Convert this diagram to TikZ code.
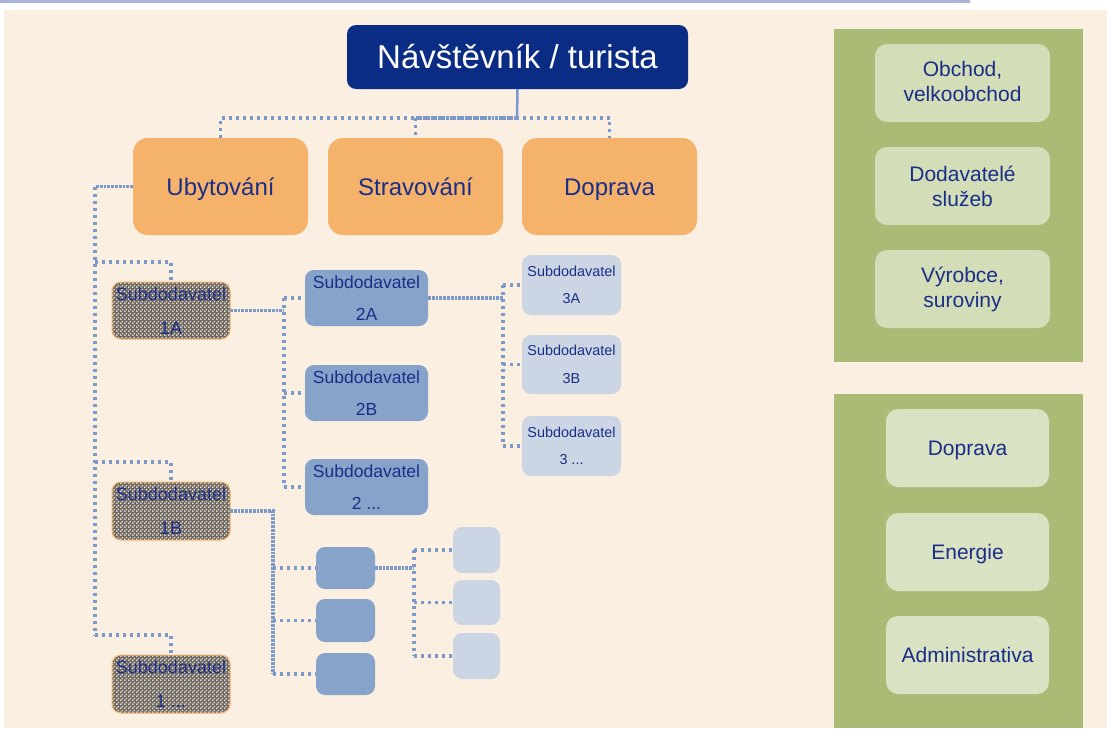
\documentclass[tikz,border=0pt]{standalone}
\usepackage{fontspec}
\setmainfont{Liberation Sans}
\usetikzlibrary{patterns}

\definecolor{pagebg}{HTML}{FBEFE2}
\definecolor{topline}{HTML}{A9B5D5}
\definecolor{navy}{HTML}{0B2C84}
\definecolor{txt}{HTML}{1B2E87}
\definecolor{orangebox}{HTML}{F4B26B}
\definecolor{midblue}{HTML}{87A3CA}
\definecolor{paleblue}{HTML}{CBD5E3}
\definecolor{hatchbase}{HTML}{6F6961}
\definecolor{hatchdot}{HTML}{F1EAE1}
\definecolor{panelgreen}{HTML}{AABB76}
\definecolor{innergreenA}{HTML}{D3DEB9}
\definecolor{innergreenB}{HTML}{D9E2C3}
\definecolor{link}{HTML}{7B9ACB}

% light diamond dots on a dark ground
\pgfdeclarepatternformonly{diadots}{\pgfqpoint{0pt}{0pt}}{\pgfqpoint{4pt}{4pt}}{\pgfqpoint{4pt}{4pt}}{%
  \pgfpathcircle{\pgfqpoint{1pt}{1pt}}{1.2pt}%
  \pgfpathcircle{\pgfqpoint{3pt}{3pt}}{0.95pt}%
  \pgfusepath{fill}}

\tikzset{
  box/.style={anchor=north west, inner sep=0pt, outer sep=0pt, align=center, text=txt},
  titlebox/.style={box, fill=navy, rounded corners=9pt, text=white,
    font=\fontsize{33}{38}\selectfont, text height=23.6pt, text depth=0pt},
  topbox/.style={box, fill=orangebox, rounded corners=15pt,
    font=\fontsize{24}{28}\selectfont, text height=17.2pt, text depth=0pt},
  hatchbox/.style={box, rounded corners=9pt, draw=orangebox, line width=1pt,
    preaction={fill=hatchbase}, pattern=diadots, pattern color=hatchdot,
    font=\fontsize{18}{34}\selectfont},
  midbox/.style={box, fill=midblue, rounded corners=9pt,
    font=\fontsize{17.5}{32}\selectfont},
  palebox/.style={box, fill=paleblue, rounded corners=9pt,
    font=\fontsize{14.4}{27.5}\selectfont},
  sidebox/.style={box, rounded corners=12pt,
    font=\fontsize{21}{25}\selectfont},
  onebox/.style={text height=15pt, text depth=0pt},
  dotln/.style={draw=link, line width=3.4pt, line cap=butt, dash pattern=on 3pt off 4pt},
  denseln/.style={draw=link, line width=3.4pt, line cap=butt, dash pattern=on 2.8pt off 1pt},
  solidln/.style={draw=link, line width=2.5pt},
}

\begin{document}
\begin{tikzpicture}[x=1pt, y=-1pt]
\useasboundingbox (0,0) rectangle (1107,728);

% page background
\fill[white] (0,0) rectangle (1107,728);
\fill[pagebg] (4,9.5) rectangle (1107,728);
\fill[topline] (0,0) rectangle (970,2.5);

% side panels
\fill[panelgreen] (834,29) rectangle (1083,362);
\fill[panelgreen] (834,394) rectangle (1083,728);

\node[sidebox, fill=innergreenA, minimum width=175, minimum height=78] (p1) at (875,44) {Obchod,\\velkoobchod\rule[-4pt]{0pt}{1pt}};
\node[sidebox, fill=innergreenA, minimum width=175, minimum height=78] (p2) at (875,147) {Dodavatelé\\služeb};
\node[sidebox, fill=innergreenA, minimum width=175, minimum height=78] (p3) at (875,250) {Výrobce,\\suroviny};

\node[sidebox, onebox, fill=innergreenB, minimum width=163, minimum height=78] (q1) at (886,409) {Doprava};
\node[sidebox, onebox, fill=innergreenB, minimum width=163, minimum height=78] (q2) at (886,513) {Energie};
\node[sidebox, onebox, fill=innergreenB, minimum width=163, minimum height=78] (q3) at (886,616) {Administrativa};

% main hierarchy
\node[titlebox, minimum width=341, minimum height=64] (title) at (347,25) {Návštěvník / turista};

\node[topbox, minimum width=175, minimum height=97] (ubyt) at (133,138) {Ubytování};
\node[topbox, minimum width=175, minimum height=97] (strav) at (328,138) {Stravování};
\node[topbox, minimum width=175, minimum height=97] (dopr) at (522,138) {Doprava};

% first-level subcontractors
\node[hatchbox, minimum width=118, minimum height=57] (s1a) at (112,282) {Subdodavatel\\1A};
\node[hatchbox, minimum width=118, minimum height=58] (s1b) at (112,482) {Subdodavatel\\1B};
\node[hatchbox, minimum width=118, minimum height=58] (s1c) at (112,655) {Subdodavatel\\1 ...};

% second-level subcontractors
\node[midbox, minimum width=123, minimum height=56] (s2a) at (305,270) {Subdodavatel\\2A};
\node[midbox, minimum width=123, minimum height=56] (s2b) at (305,365) {Subdodavatel\\2B};
\node[midbox, minimum width=123, minimum height=56] (s2c) at (305,459) {Subdodavatel\\2 ...};

% third-level subcontractors
\node[palebox, minimum width=99, minimum height=60] (s3a) at (522,255) {Subdodavatel\\3A};
\node[palebox, minimum width=99, minimum height=59] (s3b) at (522,335) {Subdodavatel\\3B};
\node[palebox, minimum width=99, minimum height=60] (s3c) at (522,416) {Subdodavatel\\3 ...};

% unnamed chain under 1B
\node[midbox, minimum width=59, minimum height=42] (m1) at (316,547) {};
\node[midbox, minimum width=59, minimum height=43] (m2) at (316,599) {};
\node[midbox, minimum width=59, minimum height=42] (m3) at (316,653) {};

\node[palebox, minimum width=47, minimum height=46] (l1) at (453,527) {};
\node[palebox, minimum width=47, minimum height=45] (l2) at (453,580) {};
\node[palebox, minimum width=47, minimum height=46] (l3) at (453,633) {};

% bend points of the connectors
\coordinate (bus) at (517,118);
\coordinate (v1) at (95,0);
\coordinate (k1) at (95,262);
\coordinate (k2) at (95,462);
\coordinate (k3) at (95,635);
\coordinate (v2) at (284,0);
\coordinate (v3) at (503,0);
\coordinate (v4) at (273,0);
\coordinate (v5) at (414,0);

% title to main categories
\draw[solidln] (title.south) -- (bus);
\draw[dotln] (ubyt.north) |- (bus) -| (dopr.north);
\draw[dotln] (strav.north |- bus) -- (strav.north);
\draw[denseln] (strav.north |- bus) -- (bus);

% Ubytovani to first level
\draw[denseln] (ubyt.west) -- (ubyt.west -| v1);
\draw[dotln] (ubyt.west -| v1) -- (k3);
\draw[dotln] (k1) -| (s1a.north);
\draw[dotln] (k2) -| (s1b.north);
\draw[dotln] (k3) -| (s1c.north);

% 1A to second level
\draw[denseln] (s1a.east) -- (s1a.east -| v2);
\draw[dotln] (s2a.west -| v2) -- (s2c.west -| v2);
\draw[dotln] (s2a.west -| v2) -- (s2a.west);
\draw[dotln] (s2b.west -| v2) -- (s2b.west);
\draw[dotln] (s2c.west -| v2) -- (s2c.west);

% 2A to third level
\draw[denseln] (s2a.east) -- (s2a.east -| v3);
\draw[dotln] (s3a.west -| v3) -- (s3c.west -| v3);
\draw[dotln] (s3a.west -| v3) -- (s3a.west);
\draw[dotln] (s3b.west -| v3) -- (s3b.west);
\draw[dotln] (s3c.west -| v3) -- (s3c.west);

% 1B chain
\draw[denseln] (s1b.east) -- (s1b.east -| v4) -- (m3.west -| v4);
\draw[dotln] (m1.west -| v4) -- (m1.west);
\draw[dotln] (m2.west -| v4) -- (m2.west);
\draw[dotln] (m3.west -| v4) -- (m3.west);

\draw[denseln] (m1.east) -- (m1.east -| v5);
\draw[dotln] (l1.west -| v5) -- (l3.west -| v5);
\draw[dotln] (l1.west -| v5) -- (l1.west);
\draw[dotln] (l2.west -| v5) -- (l2.west);
\draw[dotln] (l3.west -| v5) -- (l3.west);
\end{tikzpicture}
\end{document}
